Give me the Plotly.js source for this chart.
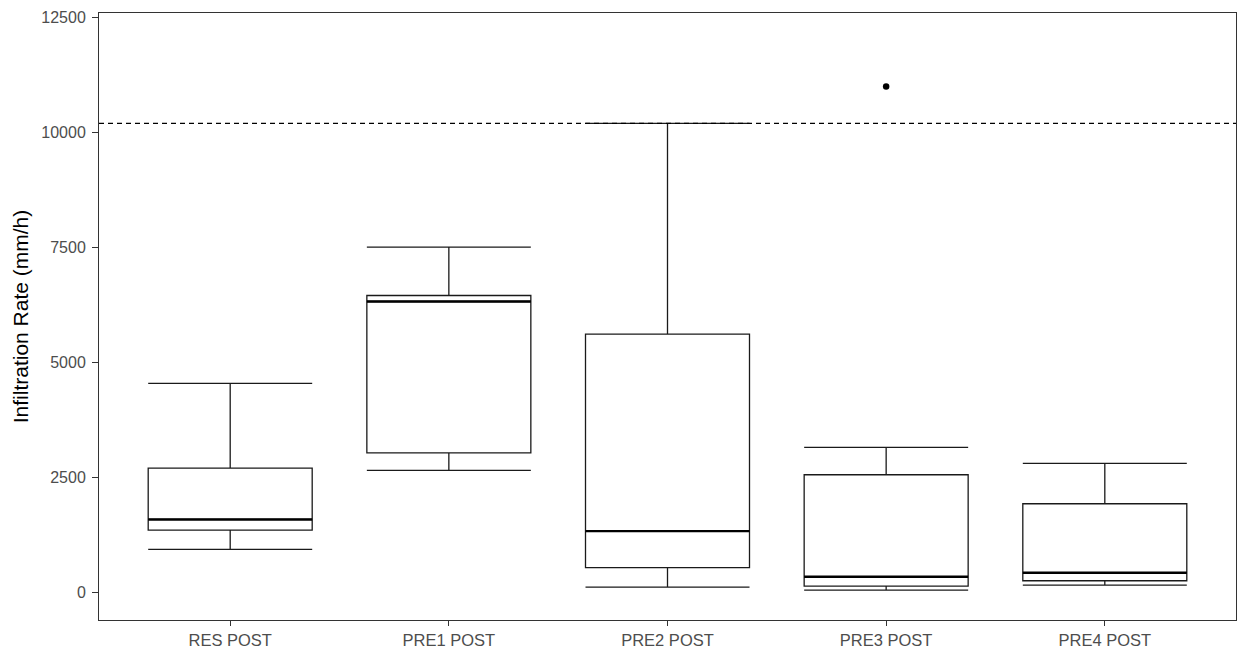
<!DOCTYPE html>
<html>
<head>
<meta charset="utf-8">
<script src="https://cdn.plot.ly/plotly-3.0.1.min.js"></script>
<style>html,body{margin:0;padding:0;background:#fff;}#chart{width:1238px;height:650px;}</style>
</head>
<body>
<div id="chart"></div>
<script>
// Data
const categories = ["RES POST", "PRE1 POST", "PRE2 POST", "PRE3 POST", "PRE4 POST"];
const lowerWhisker = [935, 2652, 115, 50, 159];
const q1Values     = [1355, 3036, 537, 137, 254];
const medianValues = [1587, 6326, 1333, 341, 428];
const q3Values     = [2703, 6457, 5615, 2559, 1928];
const upperWhisker = [4544, 7508, 10200, 3152, 2804];
const outlierCategories = ["PRE3 POST"];
const outlierValues = [11000];
const referenceLine = 10200;
const yTickValues = [0, 2500, 5000, 7500, 10000, 12500];

const boxWidth = 0.75;

const traces = [
  {
    type: "box",
    x: categories,
    q1: q1Values,
    median: medianValues,
    q3: q3Values,
    lowerfence: lowerWhisker,
    upperfence: upperWhisker,
    width: boxWidth,
    fillcolor: "#ffffff",
    line: {color: "#1a1a1a", width: 1.3},
    whiskerwidth: 1,
    boxpoints: false,
    hoverinfo: "skip",
    showlegend: false
  },
  {
    type: "scatter",
    mode: "markers",
    x: outlierCategories,
    y: outlierValues,
    marker: {color: "#000000", size: 6.5},
    hoverinfo: "skip",
    showlegend: false
  }
];

const shapes = [
  {
    type: "line", xref: "paper", yref: "y",
    x0: 0, x1: 1, y0: referenceLine, y1: referenceLine,
    line: {color: "#000000", width: 1.2, dash: "5px,4px"},
    layer: "above"
  }
];
medianValues.forEach((m, i) => {
  shapes.push({
    type: "line", xref: "x", yref: "y",
    x0: i - boxWidth / 2, x1: i + boxWidth / 2, y0: m, y1: m,
    line: {color: "#000000", width: 2.4},
    layer: "above"
  });
});

const layout = {
  width: 1238,
  height: 650,
  margin: {l: 99, r: 2, t: 13, b: 30},
  paper_bgcolor: "#ffffff",
  plot_bgcolor: "#ffffff",
  font: {family: "Liberation Sans, Arial, sans-serif", color: "#4d4d4d", size: 16},
  showlegend: false,
  shapes: shapes,
  xaxis: {
    type: "category",
    range: [-0.6, 4.6],
    showgrid: false,
    zeroline: false,
    showline: true,
    mirror: true,
    linecolor: "#333333",
    linewidth: 1,
    ticks: "outside",
    ticklen: 5,
    tickcolor: "#333333",
    tickwidth: 1,
    tickfont: {size: 16.5, color: "#4d4d4d"}
  },
  yaxis: {
    range: [-600, 12600],
    tickvals: yTickValues,
    ticktext: yTickValues.map(String),
    showgrid: false,
    zeroline: false,
    showline: true,
    mirror: true,
    linecolor: "#333333",
    linewidth: 1,
    ticks: "outside",
    ticklen: 6,
    ticklabelstandoff: 3,
    tickcolor: "#333333",
    tickwidth: 1,
    tickfont: {size: 16, color: "#4d4d4d"},
    automargin: true,
    title: {text: "Infiltration Rate (mm/h)", font: {size: 21, color: "#000000"}, standoff: 6}
  }
};

Plotly.newPlot("chart", traces, layout, {staticPlot: true, displayModeBar: false});
</script>
</body>
</html>
